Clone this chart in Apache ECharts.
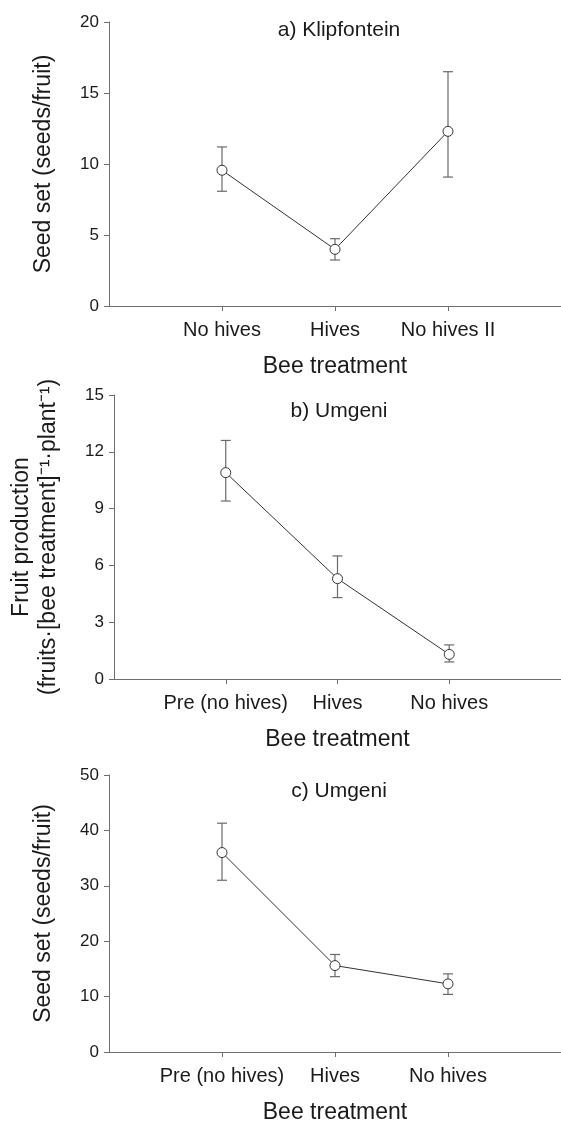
<!DOCTYPE html>
<html>
<head>
<meta charset="utf-8">
<script src="https://cdn.jsdelivr.net/npm/echarts@6/dist/echarts.min.js"></script>
<style>
  html, body { margin: 0; padding: 0; background: #fff; }
  #chart { width: 561px; height: 1125px; }
</style>
</head>
<body>
<div id="chart"></div>
<script>
// panel a) Klipfontein - seed set
const catsA = ['No hives', 'Hives', 'No hives II'];
const meanA = [9.56, 3.99, 12.3];
const lowA = [8.08, 3.24, 9.08];
const highA = [11.2, 4.74, 16.5];

// panel b) Umgeni - fruit production
const catsB = ['Pre (no hives)', 'Hives', 'No hives'];
const meanB = [10.9, 5.3, 1.3];
const lowB = [9.4, 4.3, 0.9];
const highB = [12.6, 6.5, 1.8];

// panel c) Umgeni - seed set
const catsC = ['Pre (no hives)', 'Hives', 'No hives'];
const meanC = [36.0, 15.6, 12.3];
const lowC = [31.0, 13.6, 10.4];
const highC = [41.3, 17.6, 14.1];

const titles = ['a) Klipfontein', 'b) Umgeni', 'c) Umgeni'];
const yNames = [
  'Seed set (seeds/fruit)',
  'Fruit production\n(fruits·[bee treatment]⁻¹·plant⁻¹)',
  'Seed set (seeds/fruit)'
];
const yMax = [20, 15, 50];
const yStep = [5, 3, 10];

const FONT = '"Liberation Sans", Arial, Helvetica, sans-serif';
const TXT = '#1a1a1a';
const AXIS = '#6e6e6e';

const panels = [
  { cats: catsA, mean: meanA, low: lowA, high: highA },
  { cats: catsB, mean: meanB, low: lowB, high: highB },
  { cats: catsC, mean: meanC, low: lowC, high: highC }
];
const tops = [22, 395, 775];

const chart = echarts.init(document.getElementById('chart'));

const option = {
  backgroundColor: '#fff',
  animation: false,
  textStyle: { fontFamily: FONT, color: TXT },
  title: [],
  grid: [],
  xAxis: [],
  yAxis: [],
  series: []
};

panels.forEach((p, i) => {
  option.title.push({
    text: titles[i],
    left: 339,
    top: tops[i] + (i === 0 ? -2 : 6),
    textAlign: 'center',
    padding: 0,
    textStyle: { fontFamily: FONT, fontSize: 21, fontWeight: 'normal', color: TXT }
  });
  option.grid.push({ left: 109, top: tops[i], width: 460, height: 284 });
  option.xAxis.push({
    type: 'value',
    gridIndex: i,
    min: 0,
    max: 4,
    interval: 1,
    name: 'Bee treatment',
    nameLocation: 'middle',
    nameGap: 49,
    nameTextStyle: { fontFamily: FONT, fontSize: 23, color: TXT },
    axisLine: { show: true, lineStyle: { color: AXIS, width: 1 } },
    axisTick: { show: true, length: 5, customValues: [1, 2, 3], lineStyle: { color: AXIS } },
    axisLabel: {
      customValues: [1, 2, 3],
      margin: 14,
      fontFamily: FONT,
      fontSize: 20,
      color: TXT,
      formatter: (v) => p.cats[v - 1] || ''
    },
    splitLine: { show: false }
  });
  option.yAxis.push({
    type: 'value',
    gridIndex: i,
    min: 0,
    max: yMax[i],
    interval: yStep[i],
    name: yNames[i],
    nameLocation: 'middle',
    nameGap: 52,
    nameTextStyle: { fontFamily: FONT, fontSize: 23, color: TXT, lineHeight: 27 },
    axisLine: { show: true, lineStyle: { color: AXIS, width: 1 } },
    axisTick: { show: true, length: 5, lineStyle: { color: AXIS } },
    axisLabel: { margin: 10, fontFamily: FONT, fontSize: 17, color: TXT },
    splitLine: { show: false }
  });

  // error bars
  option.series.push({
    type: 'custom',
    xAxisIndex: i,
    yAxisIndex: i,
    z: 2,
    data: p.mean.map((m, k) => [k + 1, p.low[k], p.high[k]]),
    renderItem: (params, api) => {
      const x = api.value(0);
      const lo = api.coord([x, api.value(1)]);
      const hi = api.coord([x, api.value(2)]);
      const cap = 5;
      const style = { stroke: '#6a6a6a', lineWidth: 1.2 };
      return {
        type: 'group',
        children: [
          { type: 'line', shape: { x1: lo[0], y1: lo[1], x2: hi[0], y2: hi[1] }, style },
          { type: 'line', shape: { x1: lo[0] - cap, y1: lo[1], x2: lo[0] + cap, y2: lo[1] }, style },
          { type: 'line', shape: { x1: hi[0] - cap, y1: hi[1], x2: hi[0] + cap, y2: hi[1] }, style }
        ]
      };
    }
  });

  // means
  option.series.push({
    type: 'line',
    xAxisIndex: i,
    yAxisIndex: i,
    z: 3,
    data: p.mean.map((m, k) => [k + 1, m]),
    symbol: 'circle',
    symbolSize: 10,
    showSymbol: true,
    lineStyle: { color: '#333', width: 1 },
    itemStyle: { color: '#fff', borderColor: '#333', borderWidth: 1 }
  });
});

chart.setOption(option);
</script>
</body>
</html>
